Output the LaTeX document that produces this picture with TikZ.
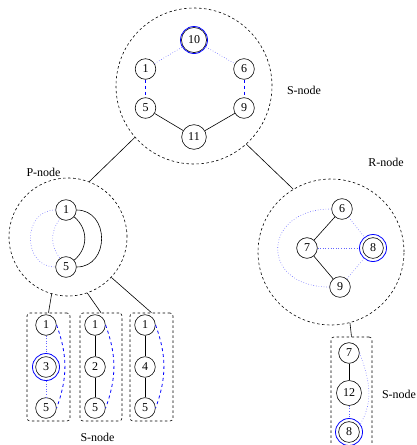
\documentclass[tikz,border=0pt]{standalone}
\usepackage{fontspec}
\setmainfont{Liberation Serif}
\begin{document}
\begin{tikzpicture}[x=1pt,y=-1pt,
  every node/.append style={font=\fontsize{12}{14}\selectfont},
  vtx/.style={circle,draw,line width=0.6pt,inner sep=3.8pt,minimum size=20pt},
  ring/.style={circle,draw=blue,line width=0.8pt,minimum size=27pt,inner sep=0pt},
  region/.style={circle,draw,dash pattern=on 2.5pt off 2.5pt,line width=0.6pt,inner sep=0pt},
  snode/.style={draw,dash pattern=on 2.5pt off 2.5pt,rounded corners=3pt,line width=0.6pt,inner sep=0pt},
  virt/.style={blue,dash pattern=on 3pt off 3pt,line width=0.8pt},
  weak/.style={blue!60,dotted,line width=0.6pt},
  link/.style={line width=0.6pt},
  lbl/.style={inner sep=0pt}]
\useasboundingbox (0,0) rectangle (417,445);

% big regions
\node[region,minimum size=156pt] (S) at (194,86) {};
\node[region,minimum size=118pt] (P) at (68,237) {};
\node[region,minimum size=146pt] (R) at (331,252) {};
\node[snode,minimum width=43pt,minimum height=108pt] (A) at (48.5,367) {};
\node[snode,minimum width=42pt,minimum height=108pt] (B) at (101,367) {};
\node[snode,minimum width=43pt,minimum height=108pt] (C) at (151.5,367) {};
\node[snode,minimum width=41pt,minimum height=113pt] (D) at (351.5,393.5) {};

% top S-node
\node[vtx] (s10) at (194,40) {10};
\node[ring] (rs10) at (s10) {};
\node[vtx] (s1) at (145.5,69) {1};
\node[vtx] (s6) at (244,69) {6};
\node[vtx] (s5) at (145.5,108) {5};
\node[vtx] (s9) at (244,108) {9};
\node[vtx] (s11) at (194,137) {11};
\draw[weak] (s1) -- (rs10);
\draw[weak] (rs10) -- (s6);
\draw[virt] (s1) -- (s5);
\draw[virt] (s6) -- (s9);
\draw[link] (s5) -- (s11) -- (s9);

% P-node
\node[vtx] (p1) at (66,210) {1};
\node[vtx] (p5) at (66,267) {5};
\draw[link] (p1) to[out=-40,in=40,looseness=1.1] (p5);
\draw[link] (p1) to[out=0,in=0,looseness=1.5] (p5);
\draw[weak] (p1) to[out=180,in=180,looseness=1.5] (p5);
\draw[weak] (p1) to[out=235,in=125,looseness=1.1] (p5);

% R-node
\node[vtx] (q6) at (342,209) {6};
\node[vtx] (q7) at (307,248) {7};
\node[vtx] (q8) at (373,248) {8};
\node[ring] (rq8) at (q8) {};
\node[vtx] (q9) at (340,287) {9};
\draw[link] (q6) -- (q7) -- (q9);
\draw[weak] (q6) -- (rq8);
\draw[weak] (q7) -- (rq8);
\draw[weak] (q9) -- (rq8);
\draw[weak] (q6) to[out=180,in=180,looseness=2.3] (q9);

% bottom S-nodes
\node[vtx] (a1) at (46,325) {1};
\node[vtx] (a3) at (46,367) {3};
\node[ring] (ra3) at (a3) {};
\node[vtx] (a5) at (46,408) {5};
\draw[weak] (a1) -- (ra3);
\draw[weak] (ra3) -- (a5);
\draw[virt] (a1.east) to[out=-70,in=70] (a5.east);

\node[vtx] (b1) at (95,325) {1};
\node[vtx] (b2) at (95,367) {2};
\node[vtx] (b5) at (95,408) {5};
\draw[link] (b1) -- (b2) -- (b5);
\draw[virt] (b1.east) to[out=-70,in=70] (b5.east);

\node[vtx] (c1) at (145,325) {1};
\node[vtx] (c4) at (145,367) {4};
\node[vtx] (c5) at (145,408) {5};
\draw[link] (c1) -- (c4) -- (c5);
\draw[virt] (c1.east) to[out=-70,in=70] (c5.east);

% right S-node
\node[vtx] (d7) at (349,353) {7};
\node[vtx] (d12) at (349,393) {12};
\node[vtx] (d8) at (349,432) {8};
\node[ring] (rd8) at (d8) {};
\draw[link] (d7) -- (d12);
\draw[weak] (d12) -- (rd8);
\draw[weak] (d7.east) to[out=-70,in=60] (rd8.35);

% tree connectors
\draw[link] (S.221.5) -- (P.69);
\draw[link] (S.312.5) -- (R.121.5);
\draw[link] (P.254) -- (A.north);
\draw[link] (P.289) -- (B.north);
\draw[link] (P.317.5) -- (C.north);
\draw[link] (R.285) -- (D.north);

% labels
\node[lbl] (lS) at (304,90) {S-node};
\node[lbl] (lP) at (43.5,172) {P-node};
\node[lbl] (lR) at (386,162) {R-node};
\node[lbl] (lA) at (97.5,437.5) {S-node};
\node[lbl] (lD) at (399,394) {S-node};
\end{tikzpicture}
\end{document}
